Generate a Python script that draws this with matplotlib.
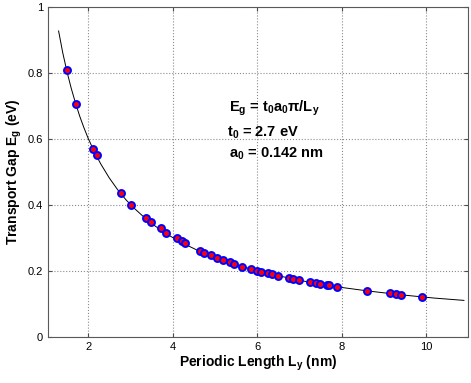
import numpy as np
import matplotlib
matplotlib.use("Agg")
import matplotlib.pyplot as plt

plt.rcParams['font.family'] = ['Liberation Sans', 'DejaVu Sans']
plt.rcParams['mathtext.fontset'] = 'custom'
plt.rcParams['mathtext.rm'] = 'Liberation Sans:bold'
plt.rcParams['mathtext.it'] = 'Liberation Sans:bold'
plt.rcParams['mathtext.bf'] = 'Liberation Sans:bold'
plt.rcParams['mathtext.default'] = 'rm'

# simulated transport gaps (points)
ly_pts = [1.50, 1.72, 2.12, 2.20, 2.78, 3.02, 3.38, 3.50, 3.72, 3.85, 4.10, 4.22,
          4.30, 4.65, 4.75, 4.90, 5.05, 5.20, 5.35, 5.45, 5.65, 5.85, 6.00, 6.10,
          6.25, 6.35, 6.50, 6.75, 6.85, 7.00, 7.25, 7.40, 7.50, 7.65, 7.70, 7.90,
          8.60, 9.15, 9.30, 9.40, 9.90]
eg_pts = [0.810, 0.705, 0.570, 0.550, 0.435, 0.400, 0.362, 0.349, 0.330, 0.315,
          0.300, 0.290, 0.284, 0.261, 0.255, 0.247, 0.240, 0.233, 0.227, 0.222,
          0.213, 0.206, 0.201, 0.198, 0.194, 0.190, 0.186, 0.179, 0.177, 0.174,
          0.167, 0.164, 0.162, 0.158, 0.157, 0.153, 0.140, 0.132, 0.130, 0.128,
          0.122]

# analytic curve
ly_line = [1.30, 1.40, 1.50, 1.60, 1.70, 1.80, 1.90, 2.00, 2.15, 2.30, 2.50,
           2.70, 2.90, 3.10, 3.35, 3.60, 3.90, 4.20, 4.60, 5.00, 5.50, 6.00,
           6.60, 7.20, 7.90, 8.60, 9.40, 10.20, 10.90]
eg_line = [0.927, 0.860, 0.803, 0.753, 0.709, 0.669, 0.634, 0.602, 0.560,
           0.524, 0.482, 0.446, 0.415, 0.389, 0.360, 0.335, 0.309, 0.287,
           0.262, 0.241, 0.219, 0.201, 0.183, 0.167, 0.152, 0.140, 0.128,
           0.118, 0.111]

fig = plt.figure(figsize=(4.71, 3.83), dpi=100)
ax = fig.add_axes([0.102, 0.120, 0.892, 0.862])

ax.plot(ly_line, eg_line, '-', color='black', lw=0.7, zorder=2)
ax.plot(ly_pts, eg_pts, 'o', ms=5.0, mfc='red', mec='blue', mew=1.4, zorder=3)

ax.set_xlim(1.05, 11.0)
ax.set_ylim(0, 1)
ax.set_xticks([2, 4, 6, 8, 10])
ax.set_yticks([0, 0.2, 0.4, 0.6, 0.8, 1])
ax.set_yticklabels(['0', '0.2', '0.4', '0.6', '0.8', '1'])
ax.grid(True, ls=':', color='0.55', lw=0.8)
ax.tick_params(direction='in', length=3, labelsize=8, top=True, right=True,
               color='0.3')
for s in ax.spines.values():
    s.set_color('0.35')
    s.set_linewidth(0.8)

ax.set_xlabel('Periodic Length L$_y$ (nm)', fontsize=10, fontweight='bold', labelpad=1)
ax.set_ylabel('Transport Gap E$_g$ (eV)', fontsize=10, fontweight='bold', labelpad=3)

ax.text(5.33, 0.694, r'E$_g$ = t$_0$a$_0$$\pi$/L$_y$', fontsize=10.5, fontweight='bold', va='center')
ax.text(5.30, 0.618, 't$_0$ = 2.7 eV', fontsize=10.5, fontweight='bold', va='center')
ax.text(5.33, 0.555, 'a$_0$ = 0.142 nm', fontsize=10.5, fontweight='bold', va='center')

plt.savefig('out.png', dpi=100)
